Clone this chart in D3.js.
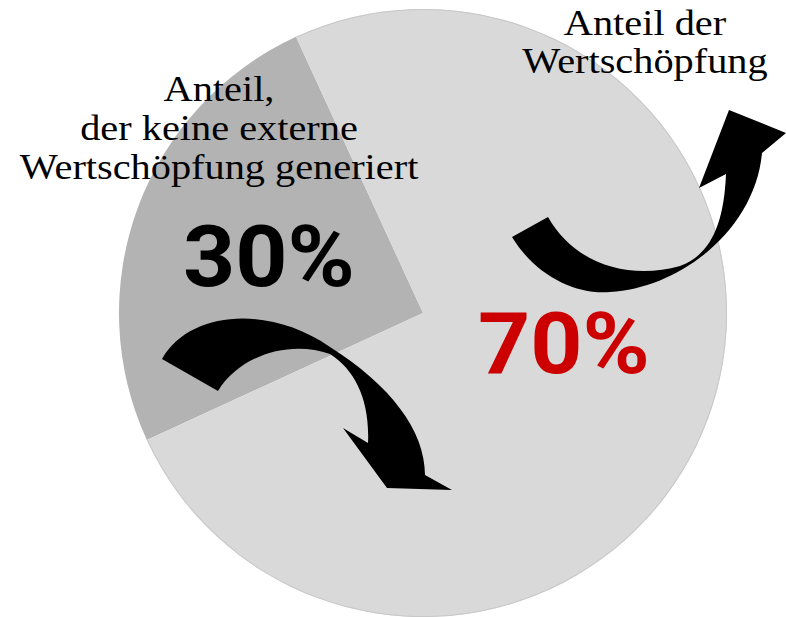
<!DOCTYPE html>
<html>
<head>
<meta charset="utf-8">
<script src="https://cdn.jsdelivr.net/npm/d3@7"></script>
<style>
  body { margin: 0; background: white; }
  svg { display: block; }
</style>
</head>
<body>
<div id="chart"></div>
<script>
var width = 786
var height = 617

// Data

var shares = ["intern", "extern"]
var shareValues = [25, 75]          // slice sizes as drawn in the original
var shareLabels = ["30%", "70%"]
var shareColors = ["#b3b3b3", "#d9d9d9"]
var labelColors = ["#000000", "#cc0000"]

var leftLines = ["Anteil,", "der keine externe", "Wertschöpfung generiert"]
var rightLines = ["Anteil der", "Wertschöpfung"]

// Pie layout

var cx = 423, cy = 313, radius = 304

var pie = d3.pie()
    .sort(null)
    .startAngle(245.3 * Math.PI / 180)
    .endAngle((245.3 + 360) * Math.PI / 180)

var arc = d3.arc()
    .innerRadius(0)
    .outerRadius(radius)

var rim = d3.arc()
    .innerRadius(radius - 1)
    .outerRadius(radius)

var svg = d3.select("#chart")
    .append("svg")
    .attr("width", width)
    .attr("height", height)
    .style("background-color", "white")

var chart = svg.append("g")
    .attr("transform", "translate(" + cx + "," + cy + ")")

var slices = pie(shareValues)

chart.selectAll("path.slice")
    .data(slices)
    .enter()
    .append("path")
    .attr("class", "slice")
    .attr("d", arc)
    .style("fill", function(d, i) { return shareColors[i]; })

// thin rim on the light slice
chart.append("path")
    .attr("d", rim(slices[1]))
    .style("fill", "#c8c8c8")

// Curved arrows (decoration)

var arrows = svg.append("g").style("fill", "#000")

arrows.append("path")
    .attr("d", "M162,359 C190,310 270,305 330,347 C390,385 425,430 425,475 " +
               "L452,490 L387,488 L343,428 L368,443 " +
               "C370,400 355,370 330,354 C290,340 240,355 218,391 Z")

arrows.append("path")
    .attr("d", "M512,237 C535,275 575,295 610,292 C680,288 755,230 762,153 " +
               "L786,133 L729,110 L699,188 L726,174 " +
               "C724,225 710,255 680,266 C630,280 575,265 548,217 Z")

// Texts

var serif = "'Liberation Serif', 'DejaVu Serif', serif"

// stretch text horizontally to match the wider original typeface
function widen(sel, k) {
    sel.each(function() {
        var w = this.getComputedTextLength()
        d3.select(this)
            .attr("textLength", w * k)
            .attr("lengthAdjust", "spacingAndGlyphs")
    })
}

svg.append("g")
    .selectAll("text")
    .data(leftLines)
    .enter()
    .append("text")
    .attr("x", 219)
    .attr("y", function(d, i) { return 101 + i * 39; })
    .attr("text-anchor", "middle")
    .style("font-family", serif)
    .style("font-size", "36px")
    .text(function(d) { return d; })
    .call(widen, 1.12)

svg.append("g")
    .selectAll("text")
    .data(rightLines)
    .enter()
    .append("text")
    .attr("x", 645)
    .attr("y", function(d, i) { return 35 + i * 38; })
    .attr("text-anchor", "middle")
    .style("font-family", serif)
    .style("font-size", "36px")
    .text(function(d) { return d; })
    .call(widen, 1.12)

var labelPos = [[269, 286], [564, 373]]

svg.append("g")
    .selectAll("text")
    .data(shareLabels)
    .enter()
    .append("text")
    .attr("x", function(d, i) { return labelPos[i][0]; })
    .attr("y", function(d, i) { return labelPos[i][1]; })
    .attr("text-anchor", "middle")
    .style("font-family", "Roboto, sans-serif")
    .style("font-weight", "bold")
    .style("font-size", "86px")
    .style("fill", function(d, i) { return labelColors[i]; })
    .text(function(d) { return d; })
    .call(widen, 1.06)
</script>
</body>
</html>
